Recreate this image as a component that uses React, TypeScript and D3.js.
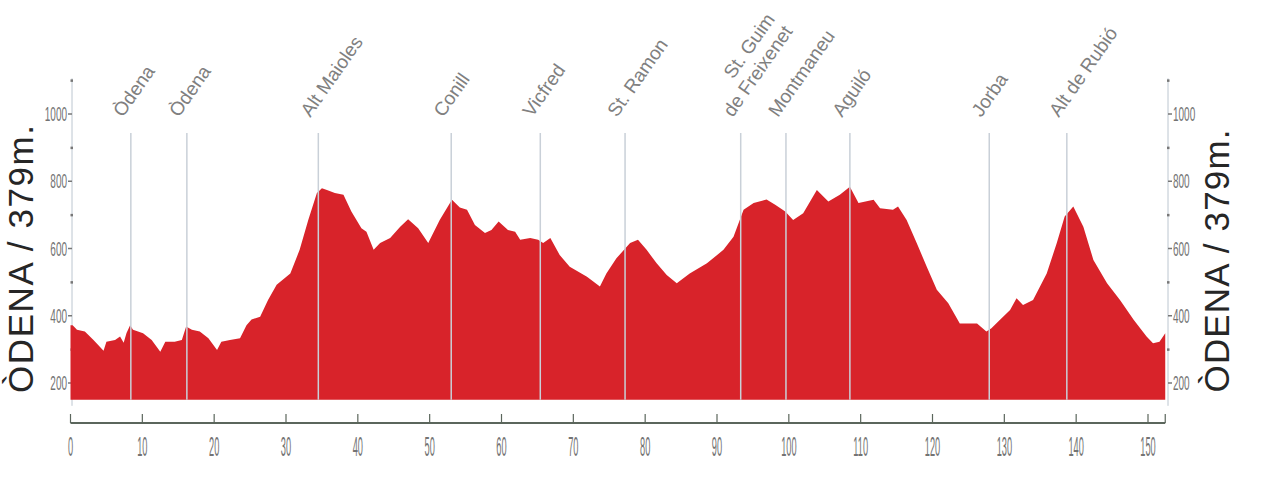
import React from "react";
import * as d3 from "d3";

const profileKm = [0, 0.3, 0.9, 2.0, 3.2, 4.6, 5.0, 6.2, 6.9, 7.4, 7.8, 8.3, 8.7, 10.1, 11.3, 12.5, 13.2, 14.5, 15.5, 16.1, 16.9, 18.0, 19.2, 20.4, 21.0, 22.2, 23.6, 24.5, 25.2, 26.4, 27.5, 28.7, 30.6, 31.9, 33.1, 34.3, 35.0, 35.7, 36.8, 38.0, 39.1, 40.5, 41.2, 42.2, 43.1, 44.5, 45.9, 47.0, 48.4, 49.8, 51.4, 53.1, 54.2, 55.2, 56.3, 57.7, 58.6, 59.6, 60.9, 61.9, 62.6, 64.0, 65.1, 65.8, 66.8, 68.1, 69.5, 71.9, 73.7, 74.6, 76.0, 77.9, 79.0, 80.2, 81.6, 83.0, 84.4, 86.2, 88.6, 90.9, 92.3, 93.7, 95.1, 96.9, 98.1, 99.5, 100.6, 102.0, 103.9, 105.5, 107.1, 108.5, 109.7, 111.8, 112.7, 114.5, 115.2, 116.4, 117.8, 119.2, 120.6, 122.2, 123.8, 125.2, 126.2, 127.5, 128.2, 129.4, 130.8, 131.7, 132.6, 134.0, 135.9, 137.3, 138.4, 139.6, 141.0, 142.4, 144.3, 146.1, 148.0, 149.8, 150.7, 151.6, 152.4];
const profileElev = [372, 372, 358, 353, 328, 296, 323, 328, 338, 320, 349, 372, 358, 348, 328, 293, 323, 323, 328, 368, 358, 353, 333, 298, 323, 328, 333, 372, 389, 397, 447, 492, 526, 596, 685, 765, 779, 774, 765, 760, 710, 660, 650, 596, 616, 631, 665, 687, 660, 616, 685, 745, 722, 715, 670, 646, 655, 680, 655, 650, 626, 631, 626, 616, 631, 581, 546, 516, 487, 526, 571, 616, 626, 596, 556, 521, 497, 526, 556, 596, 635, 715, 735, 746, 730, 710, 685, 705, 774, 740, 760, 784, 735, 745, 720, 715, 725, 685, 616, 546, 477, 437, 377, 377, 377, 353, 363, 388, 417, 452, 432, 447, 526, 616, 695, 725, 665, 566, 497, 447, 388, 338, 318, 323, 348];

const placeNames = [["Òdena"], ["Òdena"], ["Alt Maioles"], ["Conill"], ["Vicfred"], ["St. Ramon"], ["St. Guim", "de Freixenet"], ["Montmaneu"], ["Aguiló"], ["Jorba"], ["Alt de Rubió"]];
const placeKm = [8.4, 16.2, 34.5, 53.0, 65.4, 77.2, 93.3, 99.6, 108.5, 127.9, 138.7];

const kmTicks = [0, 10, 20, 30, 40, 50, 60, 70, 80, 90, 100, 110, 120, 130, 140, 150];
const elevTicks = [200, 400, 600, 800, 1000];
const elevMinor = [300, 500, 700, 900, 1100];

const title = "ÒDENA / 379m.";

const LABEL_FONT = 19;
const FONT = "Liberation Sans, Arial, sans-serif";

function measure(t: string): number {
  if (typeof document === "undefined") return t.length * LABEL_FONT * 0.5;
  const c = document.createElement("canvas").getContext("2d");
  if (!c) return t.length * LABEL_FONT * 0.5;
  c.font = `${LABEL_FONT}px "Liberation Sans", Arial, sans-serif`;
  return c.measureText(t).width;
}

export default function App() {
  const x = d3.scaleLinear().domain([0, 150]).range([70.5, 1148]);
  const y = d3.scaleLinear().domain([200, 1000]).range([383, 114]);
  const base = 150;
  const data = profileKm.map((k, i) => [k, profileElev[i]] as [number, number]);
  const area = d3
    .area<[number, number]>()
    .x((d) => x(d[0]))
    .y0(y(base))
    .y1((d) => y(d[1]));
  const axisTop = y(1100) - 2;
  const axisBottom = y(base) + 6;
  const xEnd = x(152.4);
  const leftX = 72;
  const rightX = 1168;
  const axisY = 423;
  const red = "#d8232a";
  const lineCol = "#c9d0d8";
  const tickLabel = "#737373";

  return (
    <svg width={1262} height={498} style={{ position: "absolute", left: 0, top: 0, background: "#fff" }}>
      {/* titles */}
      <text
        transform={`translate(33,259) rotate(-90)`}
        textAnchor="middle"
        fontFamily={FONT}
        fontSize={35}
        fill="#262626"
        textLength={268}
      >
        {title}
      </text>
      <text
        transform={`translate(1229,261) rotate(-90)`}
        textAnchor="middle"
        fontFamily={FONT}
        fontSize={35}
        fill="#262626"
        textLength={263}
      >
        {title}
      </text>

      {/* y axes */}
      <line x1={leftX} x2={leftX} y1={axisTop} y2={axisBottom} stroke="#bcc6d0" strokeWidth={1} />
      <line x1={rightX} x2={rightX} y1={axisTop} y2={axisBottom} stroke="#bcc6d0" strokeWidth={1} />
      {elevMinor.map((v) => (
        <g key={"m" + v}>
          <rect x={leftX - 1.5} y={y(v) - 1} width={2.5} height={2.5} fill="#777" />
          <rect x={rightX - 1} y={y(v) - 1} width={2.5} height={2.5} fill="#777" />
        </g>
      ))}
      {elevTicks.map((v) => (
        <g key={"t" + v}>
          <line x1={leftX - 4} x2={leftX} y1={y(v)} y2={y(v)} stroke="#777" strokeWidth={1.5} />
          <line x1={rightX} x2={rightX + 4} y1={y(v)} y2={y(v)} stroke="#777" strokeWidth={1.5} />
          <text
            transform={`translate(${leftX - 5},${y(v) + 7}) scale(0.5,1)`}
            textAnchor="end"
            fontFamily={FONT}
            fontSize={20}
            fill={tickLabel}
          >
            {v}
          </text>
          <text
            transform={`translate(${rightX + 5},${y(v) + 7}) scale(0.5,1)`}
            textAnchor="start"
            fontFamily={FONT}
            fontSize={20}
            fill={tickLabel}
          >
            {v}
          </text>
        </g>
      ))}

      {/* profile */}
      <path d={area(data) || ""} fill={red} />

      {/* place lines */}
      {placeKm.map((k, i) => (
        <line key={"p" + i} x1={x(k)} x2={x(k)} y1={133} y2={y(base)} stroke={lineCol} strokeWidth={1.5} />
      ))}
      {placeNames.map((lines, i) => {
        const multi = lines.length > 1;
        const w = multi ? Math.max(...lines.map(measure)) : 0;
        return (
          <text
            key={"l" + i}
            transform={`translate(${x(placeKm[i]) - 8},118) rotate(-55)`}
            fontFamily={FONT}
            fontSize={LABEL_FONT}
            fill="#808080"
            textAnchor={multi ? "end" : "start"}
          >
            {lines.map((t, j) => (
              <tspan key={j} x={multi ? w : 0} y={(j - (lines.length - 1)) * 21.5}>
                {t}
              </tspan>
            ))}
          </text>
        );
      })}

      {/* x axis */}
      <line x1={x(0)} x2={xEnd} y1={axisY} y2={axisY} stroke="#5b665c" strokeWidth={2} />
      {kmTicks.map((k) => (
        <g key={"k" + k}>
          <line x1={x(k)} x2={x(k)} y1={axisY - 9} y2={axisY} stroke="#5b665c" strokeWidth={1.2} />
          <text
            transform={`translate(${x(k)},456) scale(0.33,1)`}
            textAnchor="middle"
            fontFamily={FONT}
            fontSize={28}
            fill={tickLabel}
          >
            {k}
          </text>
        </g>
      ))}
      <line x1={xEnd} x2={xEnd} y1={axisY - 9} y2={axisY} stroke="#5b665c" strokeWidth={1.2} />
    </svg>
  );
}
